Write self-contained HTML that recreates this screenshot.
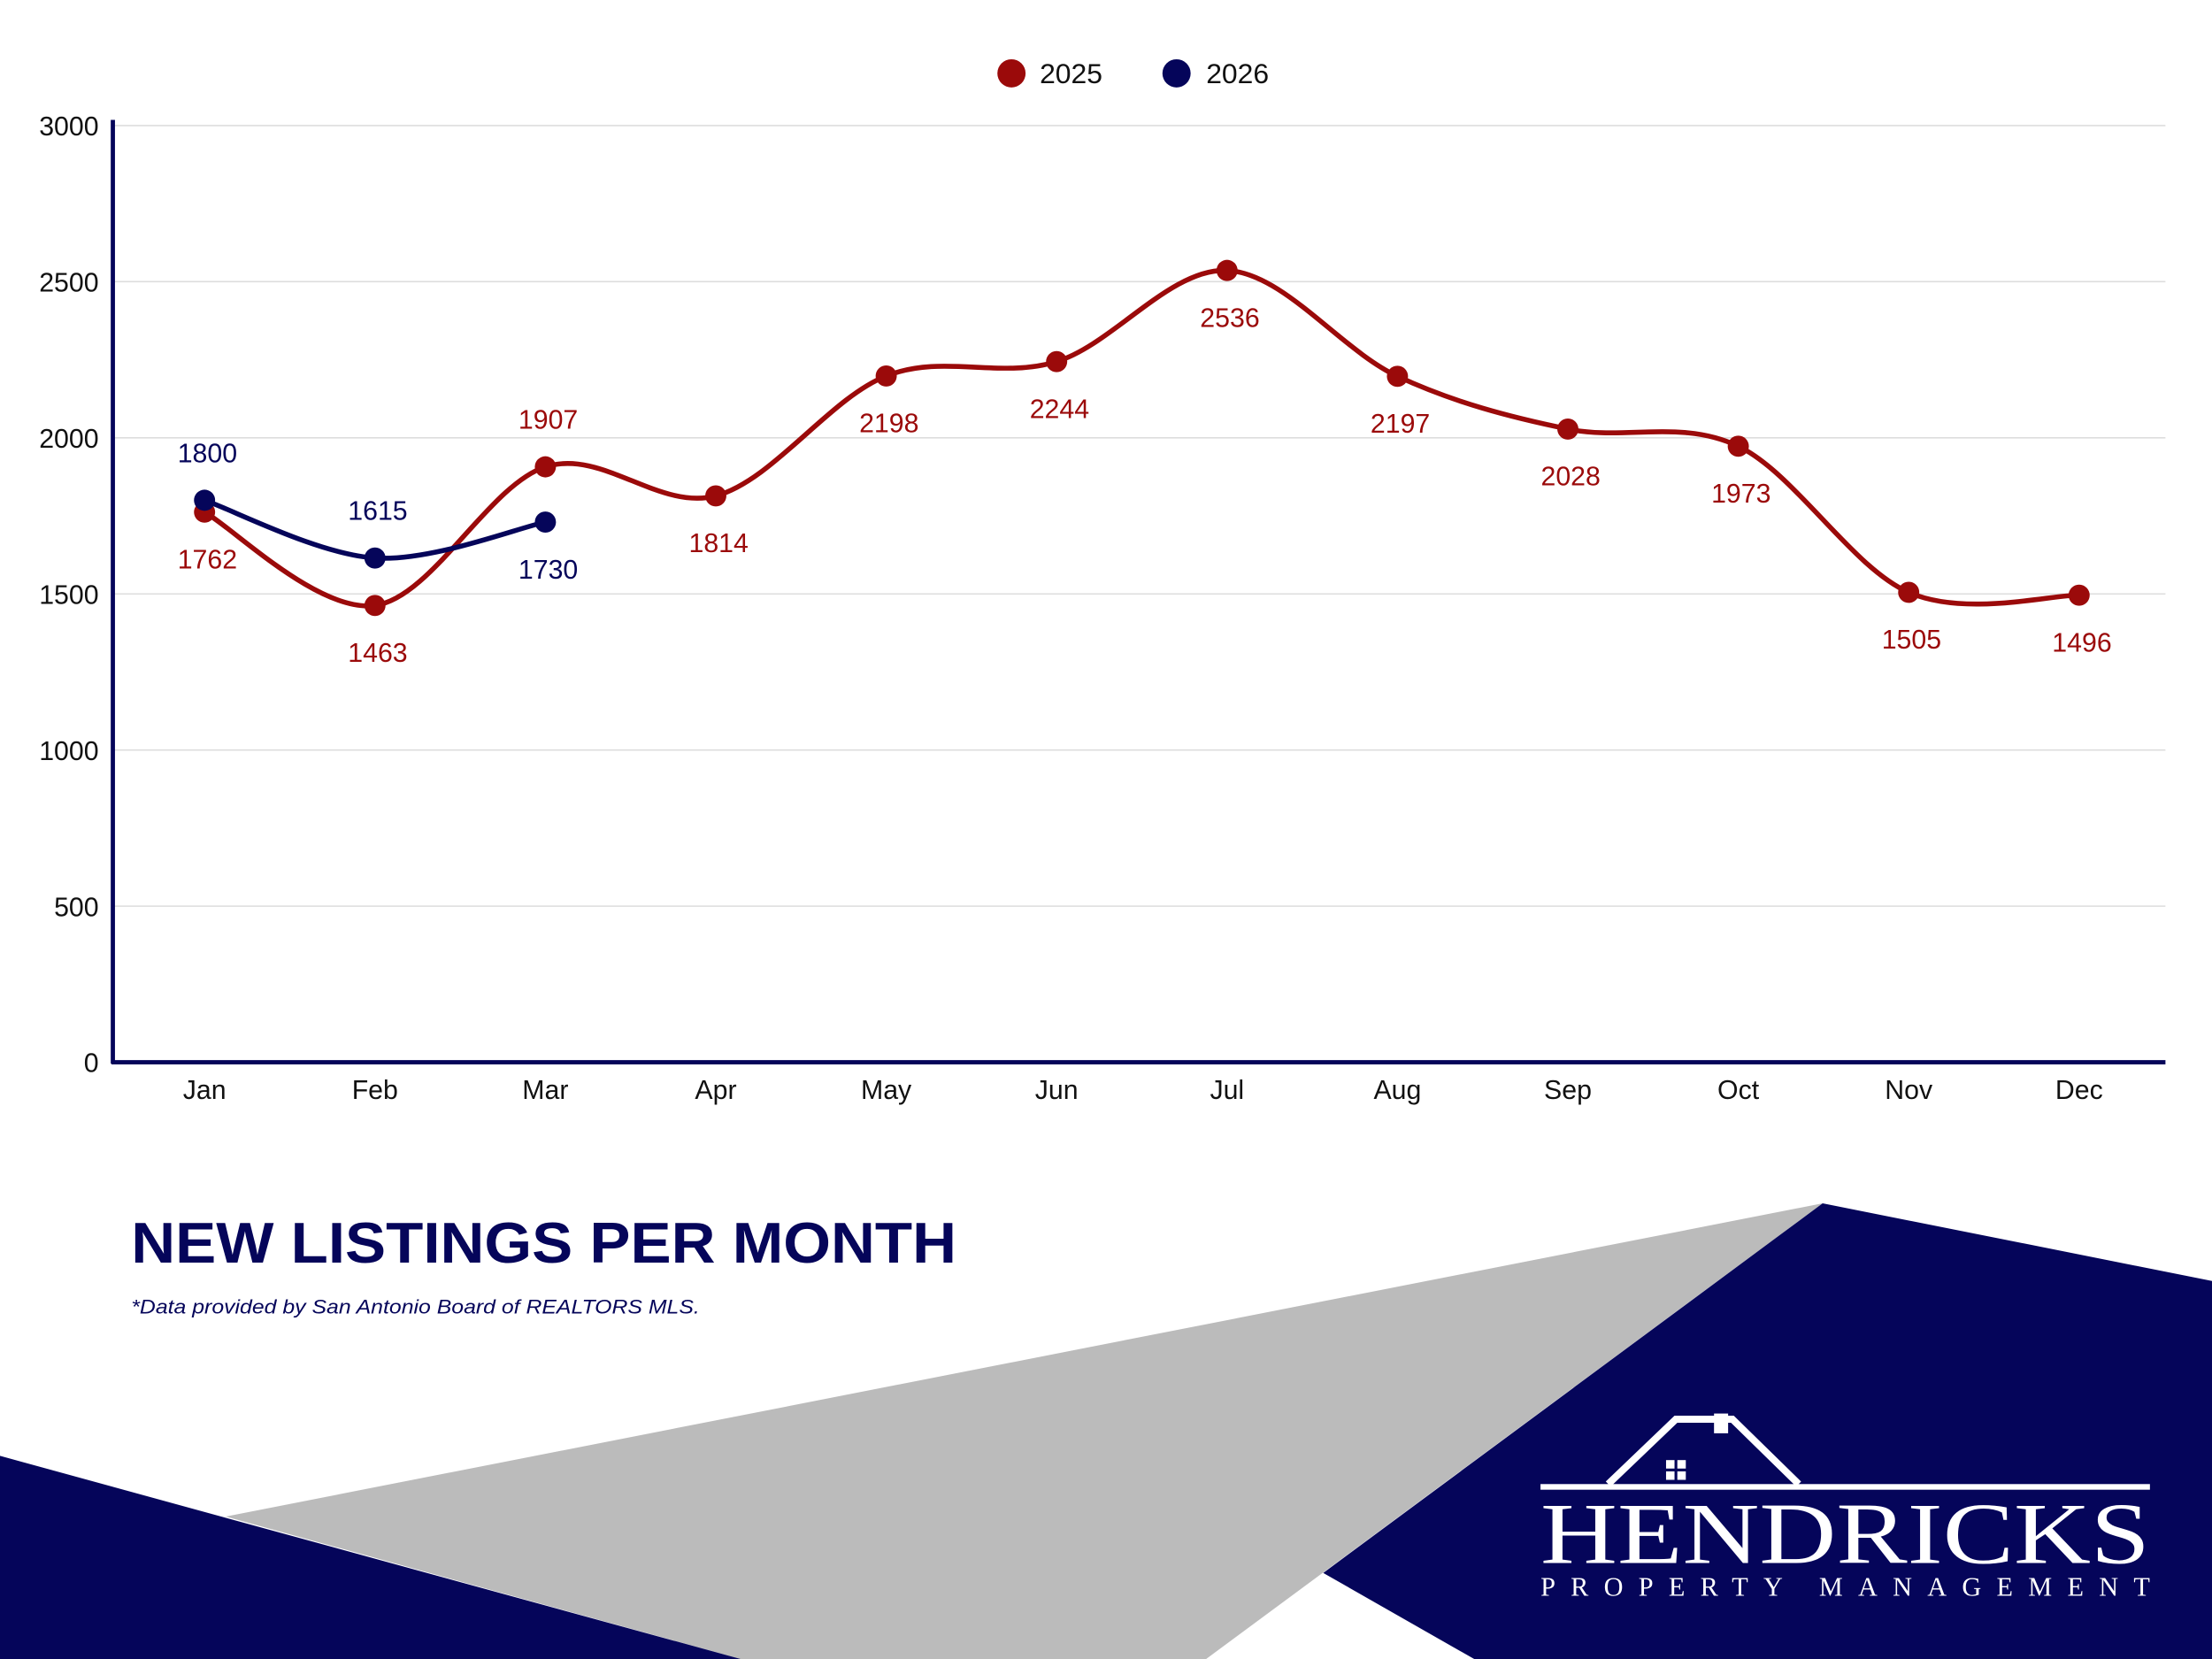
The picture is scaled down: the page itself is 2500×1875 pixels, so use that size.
<!DOCTYPE html>
<html><head><meta charset="utf-8"><style>
html,body{margin:0;padding:0;background:#fff;}
svg{display:block;font-family:"Liberation Sans",sans-serif;}
</style></head><body>
<svg id="chart" width="2500" height="1875" viewBox="0 0 1568 1176" xmlns="http://www.w3.org/2000/svg">
<g>
<polygon points="160,1075 1292,853 855,1176 525,1176" fill="#bbbbbb"/>
<polygon points="1292,853 1568,908 1568,1176 1045,1176 938,1115" fill="#05055a"/>
<polygon points="0,1032 0,1176 525,1176" fill="#05055a"/>
</g>
<g id="grid"></g>
<g id="axes"></g>
<g id="series"></g>
<g font-size="20" fill="#111">
<g><circle cx="717" cy="52" r="10" fill="#9b0a0a"/><text x="737" y="59">2025</text></g>
<g><circle cx="834" cy="52" r="10" fill="#05055a"/><text x="855" y="59">2026</text></g>
</g>
<text x="93" y="895" font-size="41" font-weight="bold" fill="#05055a" textLength="585" lengthAdjust="spacingAndGlyphs">NEW LISTINGS PER MONTH</text>
<text x="93" y="931" font-size="14" font-style="italic" fill="#05055a" textLength="403" lengthAdjust="spacingAndGlyphs">*Data provided by San Antonio Board of REALTORS MLS.</text>
<g fill="#fff">
<polyline points="1140,1052 1188,1006 1228,1006 1275,1052" fill="none" stroke="#fff" stroke-width="5"/>
<rect x="1215" y="1002" width="10" height="14"/>
<rect x="1181" y="1035" width="6" height="6"/><rect x="1189" y="1035" width="6" height="6"/>
<rect x="1181" y="1043" width="6" height="6"/><rect x="1189" y="1043" width="6" height="6"/>
<rect x="1092" y="1052" width="432" height="4"/>
<text x="1308" y="1108" font-family="Liberation Serif,serif" font-size="62" text-anchor="middle" textLength="432" lengthAdjust="spacingAndGlyphs">HENDRICKS</text>
<text x="1308" y="1131" font-family="Liberation Serif,serif" font-size="19" text-anchor="middle" textLength="432" lengthAdjust="spacing">PROPERTY MANAGEMENT</text>
</g>
</svg>
<script>
const months=["Jan","Feb","Mar","Apr","May","Jun","Jul","Aug","Sep","Oct","Nov","Dec"];
const values2025=[1762,1463,1907,1814,2198,2244,2536,2197,2028,1973,1505,1496];
const values2026=[1800,1615,1730];
const yTicks=[0,500,1000,1500,2000,2500,3000];
const labelAbove2025=[false,false,true,false,false,false,false,false,false,false,false,false];
const labelAbove2026=[true,true,false];
const NS="http://www.w3.org/2000/svg";
const X0=145,XS=120.8,Y0=753,YT=89,VMAX=3000;
const xs=i=>X0+i*XS;
const ys=v=>Y0-(v/VMAX)*(Y0-YT);
function mk(tag,attrs,parent){const e=document.createElementNS(NS,tag);for(const k in attrs)e.setAttribute(k,attrs[k]);parent.appendChild(e);return e;}
const grid=document.getElementById('grid'),axes=document.getElementById('axes'),series=document.getElementById('series');
yTicks.forEach(t=>{
 if(t>0){const l=mk('line',{x1:80,x2:1535,y1:ys(t),y2:ys(t),stroke:'#dddddd','stroke-width':1},grid);
 
 }
 const tx=mk('text',{x:70,y:ys(t)+7,'text-anchor':'end','font-size':19,fill:'#111'},axes);tx.textContent=t;
 
 
});
months.forEach((m,i)=>{const tx=mk('text',{x:xs(i),y:779,'text-anchor':'middle','font-size':19,fill:'#111'},axes);tx.textContent=m;
 
 });
const ya=mk('line',{x1:80,x2:80,y1:85,y2:754,stroke:'#05055a','stroke-width':3},axes);


const xa=mk('line',{x1:79,x2:1535,y1:Y0,y2:Y0,stroke:'#05055a','stroke-width':3},axes);


function path(vals){const p=vals.map((v,i)=>[xs(i),ys(v)]);let d=`M${p[0][0]},${p[0][1]}`;
 for(let i=0;i<p.length-1;i++){const a=p[Math.max(i-1,0)],b=p[i],c=p[i+1],e=p[Math.min(i+2,p.length-1)];
 const t=6;d+=` C${b[0]+(c[0]-a[0])/t},${b[1]+(c[1]-a[1])/t} ${c[0]-(e[0]-b[0])/t},${c[1]-(e[1]-b[1])/t} ${c[0]},${c[1]}`;}return d;}
function draw(vals,above,color,name){
 const pl=mk('path',{d:path(vals),fill:'none',stroke:color,'stroke-width':3.5},series);
 
 
 vals.forEach((v,i)=>{const c=mk('circle',{cx:xs(i),cy:ys(v),r:7.5,fill:color},series);
 
 
 const t=mk('text',{x:xs(i)+2,y:above[i]?ys(v)-27:ys(v)+40,'text-anchor':'middle','font-size':19,fill:color},series);t.textContent=v;
 
 });
}
draw(values2025,labelAbove2025,'#9b0a0a','series-2025');
draw(values2026,labelAbove2026,'#05055a','series-2026');
</script>
</body></html>
